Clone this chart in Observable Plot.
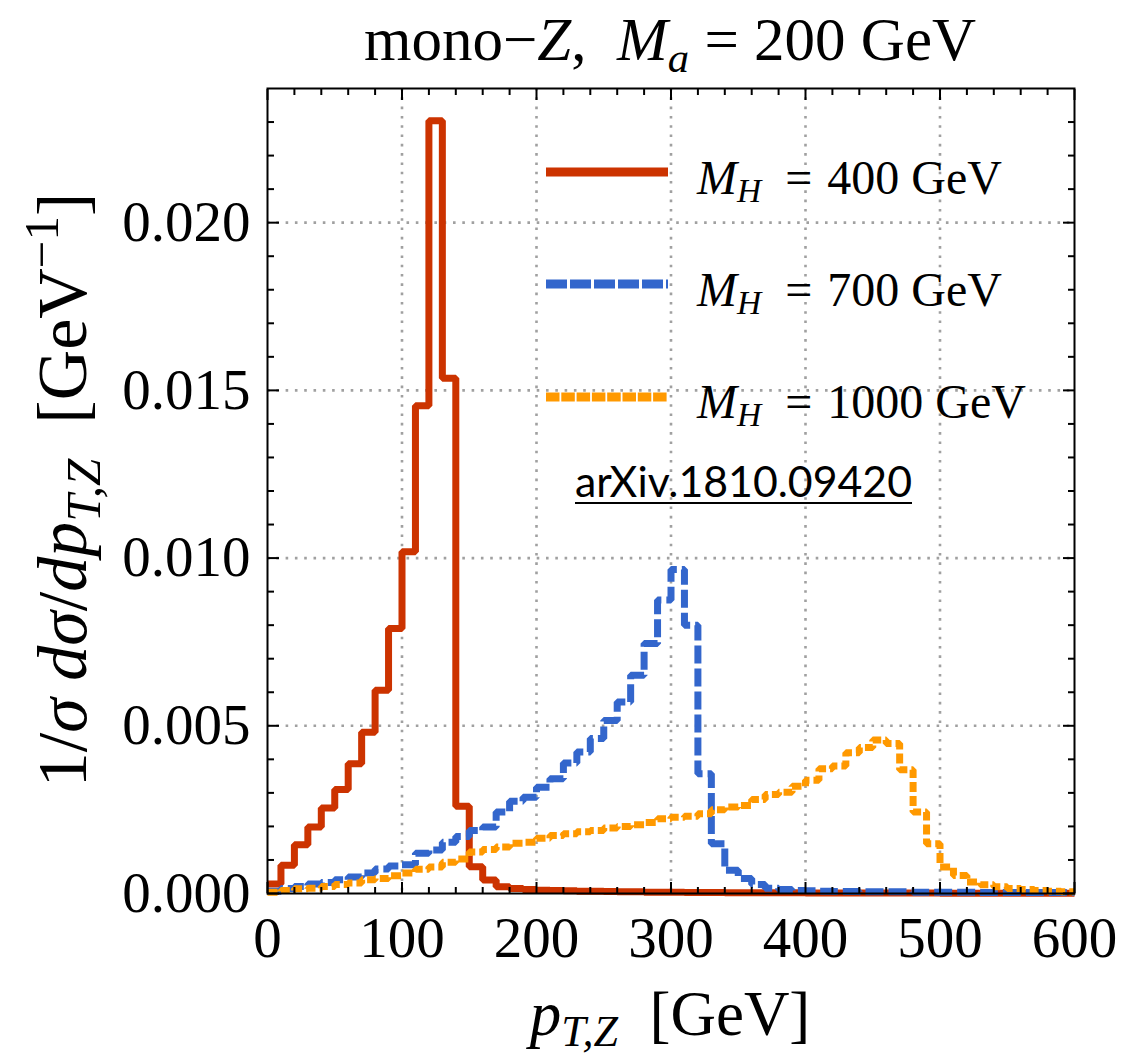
<!DOCTYPE html>
<html><head><meta charset="utf-8">
<script src="https://cdn.jsdelivr.net/npm/d3@7"></script>
<script src="https://cdn.jsdelivr.net/npm/@observablehq/plot@0.6"></script>
<style>body{margin:0;background:#fff}</style>
</head><body><div id="chart"></div>
<script>
// Bin start edges in GeV (10 GeV bins)
const binStarts = [0,10,20,30,40,50,60,70,80,90,100,110,120,130,140,150,160,170,180,190,
  200,210,220,230,240,250,260,270,280,290,300,310,320,330,340,350,360,370,380,390,
  400,410,420,430,440,450,460,470,480,490,500,510,520,530,540,550,560,570,580,590];
const binEnd = 600;

const seriesNames = ["M_H = 400 GeV", "M_H = 700 GeV", "M_H = 1000 GeV"];

const mh400 = [0.00028,0.00084,0.00145,0.00198,0.00255,0.0031,0.00387,0.00481,0.00606,0.0079,
  0.01019,0.01454,0.02304,0.01536,0.0026,0.0008,0.0004,0.0002,0.00015,0.00012,
  0.0001,0.00009,0.00008,0.00007,0.00007,0.00006,0.00005,0.00005,0.00004,0.00004,
  0.000035,0.00003,0.00003,0.00003,0.000025,0.000025,0.00002,0.00002,0.00002,0.00002,
  0.000015,0.000015,0.000015,0.000015,0.000015,0.000015,0.000015,0.000015,0.000015,0.000015,
  0.00001,0.00001,0.00001,0.00001,0.00001,0.00001,0.00001,0.00001,0.00001,0.00001];

const mh700 = [0.00007,0.00015,0.00021,0.00028,0.00033,0.00041,0.00049,0.00061,0.00073,0.00082,
  0.00086,0.0012,0.0013,0.00153,0.0017,0.00188,0.00198,0.00243,0.00275,0.00287,
  0.00317,0.00342,0.00389,0.00422,0.00462,0.00516,0.00571,0.00651,0.00745,0.00875,
  0.00966,0.008,0.00357,0.00148,0.00069,0.00045,0.00027,0.00016,0.00012,0.00009,
  0.00008,0.00007,0.00006,0.00006,0.00005,0.00005,0.00005,0.00005,0.00004,0.00004,
  0.00004,0.00004,0.00004,0.00003,0.00003,0.00003,0.00003,0.00003,0.00003,0.00003];

const mh1000 = [0.00004,0.00009,0.00014,0.00016,0.00021,0.00027,0.00031,0.00041,0.00045,0.00053,
  0.00061,0.00072,0.00079,0.00093,0.00103,0.00124,0.00131,0.00139,0.0015,0.00153,
  0.00165,0.00173,0.00178,0.00184,0.00188,0.00195,0.002,0.00205,0.00212,0.00223,
  0.00227,0.0023,0.00238,0.0025,0.00258,0.00262,0.0028,0.00295,0.00302,0.0032,
  0.00338,0.00372,0.0038,0.0042,0.00435,0.00458,0.00447,0.00369,0.00243,0.00148,
  0.00079,0.00054,0.00034,0.00026,0.0002,0.00015,0.00012,0.00009,0.00007,0.00005];

const xMajor = [0,100,200,300,400,500,600];
const xMinor = [20,40,60,80,120,140,160,180,220,240,260,280,320,340,360,380,420,440,460,480,520,540,560,580];
const xGridVals = [100,200,300,400,500];
const yMajor = [0,0.005,0.01,0.015,0.02];
const yMinor = [0.001,0.002,0.003,0.004,0.006,0.007,0.008,0.009,0.011,0.012,0.013,0.014,0.016,0.017,0.018,0.019,0.021,0.022,0.023];
const yGridVals = [0.005,0.01,0.015,0.02];

const colors = ["#cc3300", "#3366cc", "#ff9900"];

function steps(vals) {
  const rows = binStarts.map((x, i) => ({x, y: vals[i]}));
  rows.push({x: binEnd, y: vals[vals.length - 1]});
  return rows;
}

const W = 1124, H = 1062;
const gridStyle = {stroke: "#a0a0a0", strokeOpacity: 1, strokeWidth: 2.6, strokeDasharray: "2.6,6.7"};
const serif = "'Liberation Serif','Times New Roman',serif";
const LW = 7;

const plot = Plot.plot({
  width: W, height: H,
  marginLeft: 267, marginRight: 50, marginTop: 88, marginBottom: 169,
  x: {domain: [0, 600], label: null},
  y: {domain: [0, 0.024], label: null},
  style: {fontFamily: serif, fontSize: "56px", background: "white", color: "black", overflow: "visible"},
  marks: [
    Plot.gridX(xGridVals, gridStyle),
    Plot.gridY(yGridVals, gridStyle),
    Plot.line(steps(mh400), {x: "x", y: "y", curve: "step-after", stroke: colors[0], strokeWidth: LW, strokeLinejoin: "miter", strokeLinecap: "butt"}),
    Plot.line(steps(mh700), {x: "x", y: "y", curve: "step-after", stroke: colors[1], strokeWidth: LW, strokeLinejoin: "miter", strokeLinecap: "butt", strokeDasharray: "18,5"}),
    Plot.line(steps(mh1000), {x: "x", y: "y", curve: "step-after", stroke: colors[2], strokeWidth: LW, strokeLinejoin: "miter", strokeLinecap: "butt", strokeDasharray: "10,4"}),
    Plot.frame({stroke: "black", strokeWidth: 2}),
    // ticks (inward), mirrored on all sides
    Plot.axisX(xMajor, {anchor: "bottom", tickSize: -11, strokeWidth: 2, tickFormat: () => "", label: null}),
    Plot.axisX(xMinor, {anchor: "bottom", tickSize: -6, strokeWidth: 2, tickFormat: () => "", label: null}),
    Plot.axisX(xMajor, {anchor: "top", tickSize: -11, strokeWidth: 2, tickFormat: () => "", label: null}),
    Plot.axisX(xMinor, {anchor: "top", tickSize: -6, strokeWidth: 2, tickFormat: () => "", label: null}),
    Plot.axisY(yMajor, {anchor: "left", tickSize: -12, strokeWidth: 2, tickFormat: () => "", label: null}),
    Plot.axisY(yMinor, {anchor: "left", tickSize: -7, strokeWidth: 2, tickFormat: () => "", label: null}),
    Plot.axisY(yMajor, {anchor: "right", tickSize: -12, strokeWidth: 2, tickFormat: () => "", label: null}),
    Plot.axisY(yMinor, {anchor: "right", tickSize: -7, strokeWidth: 2, tickFormat: () => "", label: null}),
    // tick labels
    Plot.axisX(xMajor, {anchor: "bottom", tickSize: 0, tickPadding: 23, fontSize: 57, tickFormat: d3.format("d"), label: null}),
    Plot.axisY(yMajor, {anchor: "left", tickSize: 0, tickPadding: 17, fontSize: 57, tickFormat: d3.format(".3f"), label: null})
  ]
});

document.getElementById("chart").appendChild(plot);
const svg = d3.select(plot);

function rich(parent, parts, size) {
  parts.forEach(p => {
    const ts = parent.append("tspan").text(p.t);
    if (p.i) ts.style("font-style", "italic");
    if (p.s) ts.attr("font-size", (size * 0.7) + "px");
    if (p.dy) ts.attr("dy", p.dy);
    if (p.dx) ts.attr("dx", p.dx);
  });
}

// Title
const title = svg.append("text").attr("x", 670).attr("y", 60).attr("text-anchor", "middle")
  .style("font-family", serif).style("font-size", "61px").style("white-space", "pre").attr("fill", "black");
rich(title, [
  {t: "mono\u2212"}, {t: "Z", i: true}, {t: ",  "}, {t: "M", i: true},
  {t: "a", i: true, s: true, dy: 12}, {t: " = 200 GeV", dy: -12}
], 61);

// X label
const xl = svg.append("text").attr("x", 670).attr("y", 1035).attr("text-anchor", "middle")
  .style("font-family", serif).style("font-size", "63px").style("white-space", "pre").attr("fill", "black");
rich(xl, [{t: "p", i: true}, {t: "T,Z", i: true, s: true, dy: 11}, {t: "  [GeV]", dy: -11}], 63);

// Y label
const yl = svg.append("text").attr("transform", "translate(86,490) rotate(-90)").attr("text-anchor", "middle")
  .style("font-family", serif).style("font-size", "70px").style("white-space", "pre").attr("fill", "black");
rich(yl, [
  {t: "1/"}, {t: "\u03c3", i: true}, {t: " "}, {t: "d\u03c3", i: true}, {t: "/"}, {t: "dp", i: true},
  {t: "T,Z", i: true, s: true, dy: 14}, {t: "  [GeV", dy: -14}, {t: "\u22121", s: true, dy: -28}, {t: "]", dy: 28}
], 70);

// Legend
const legY = [172, 284, 397];
const legBase = [194, 306, 418];
const legDash = [null, "21,3", "13.5,1.8"];
const legVals = ["400", "700", "1000"];
seriesNames.forEach((name, i) => {
  const ln = svg.append("line").attr("x1", 546).attr("x2", 668).attr("y1", legY[i]).attr("y2", legY[i])
    .attr("stroke", colors[i]).attr("stroke-width", 9);
  if (legDash[i]) ln.attr("stroke-dasharray", legDash[i]);
  const t = svg.append("text").attr("x", 697).attr("y", legBase[i]).attr("text-anchor", "start")
    .style("font-family", serif).style("font-size", "48px").style("white-space", "pre").attr("fill", "black");
  rich(t, [{t: "M", i: true}, {t: "H", i: true, s: true, dy: 8}, {t: " = ", dy: -8, dx: 12}, {t: legVals[i] + " GeV", dx: 3}], 48);
});

// arXiv note
svg.append("text").attr("x", 575).attr("y", 497).attr("text-anchor", "start")
  .attr("textLength", 337).attr("lengthAdjust", "spacingAndGlyphs")
  .style("font-family", "Lato, 'Open Sans', sans-serif").style("font-size", "43px").attr("fill", "black")
  .text("arXiv.1810.09420");
svg.append("line").attr("x1", 575).attr("x2", 912).attr("y1", 503).attr("y2", 503)
  .attr("stroke", "black").attr("stroke-width", 2);
</script>
</body></html>
